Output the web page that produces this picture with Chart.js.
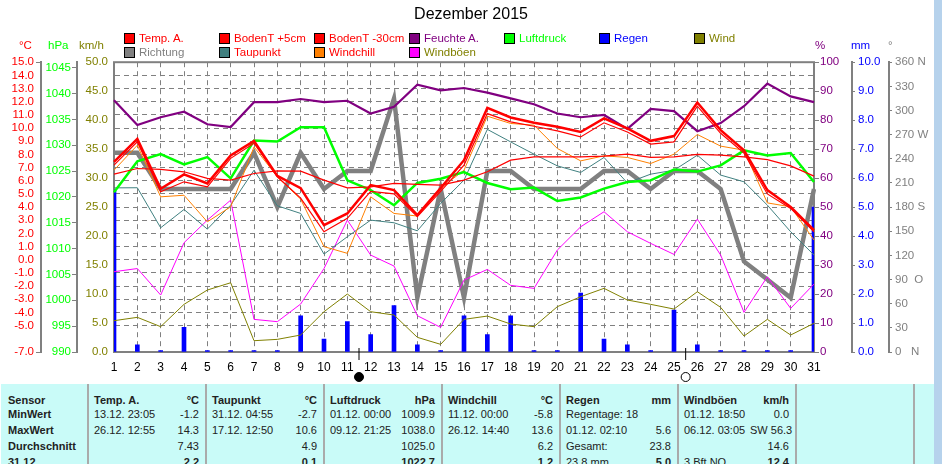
<!DOCTYPE html>
<html lang="de">
<head>
<meta charset="utf-8">
<title>Dezember 2015</title>
<script src="https://cdn.jsdelivr.net/npm/chart.js@4/dist/chart.umd.min.js"></script>
<style>
  html, body { margin: 0; padding: 0; background: #fff; overflow: hidden; }
  body { width: 942px; height: 464px; position: relative; font-family: "Liberation Sans", sans-serif; }
  canvas { position: absolute; left: 0; top: 0; }
  #legend { position: absolute; left: 124px; top: 31px; display: grid; grid-template-columns: repeat(7, 95px); grid-auto-rows: 14px; font-size: 11.5px; }
  #legend div { display: flex; align-items: center; white-space: nowrap; }
  #legend i { width: 9px; height: 9px; border: 1px solid #000; margin-right: 4px; flex: none; }
  .unit { position: absolute; top: 39px; font-size: 11.5px; }
  #scrollbar { position: absolute; left: 934px; top: 0; width: 8px; height: 464px; background: #b6d2ec; }
  #stats { position: absolute; left: 1px; top: 384px; width: 933px; height: 80px; overflow: hidden; background: #c9fbf8; }
  #stats table { border-collapse: collapse; table-layout: fixed; width: 933px; font-size: 11px; color: #222; }
  #stats td { padding: 0; height: 16px; white-space: nowrap; overflow: visible; }
  #stats tr:first-child td { height: 22px; vertical-align: bottom; font-weight: bold; }
  #stats tr:last-child td.v, #stats tr:last-child td.n { font-weight: bold; }
  #stats td.n { padding-left: 7px; font-weight: bold; }
  #stats td.l { padding-left: 5px; border-left: 2px solid #aaa; }
  #stats td.v { padding-right: 6px; text-align: right; }
</style>
</head>
<body>
<canvas id="chart" width="942" height="384"></canvas>
<div id="legend"></div>
<div id="units"></div>
<div id="scrollbar"></div>
<div id="stats"></div>

<script>
const days = ['1','2','3','4','5','6','7','8','9','10','11','12','13','14','15','16','17','18','19','20','21','22','23','24','25','26','27','28','29','30','31'];

const tempA = [7.44,9.18,5.39,6.48,5.8,7.92,9.03,6.37,5.44,2.63,3.52,5.67,5.29,3.39,5.44,7.56,11.53,10.8,10.4,10.1,9.7,10.73,9.97,9.03,9.39,11.94,9.84,8.32,5.29,4.02,2.25];
const boden5 = [7.19,8.95,5.16,5.92,5.54,7.7,8.85,6.3,4.68,2.13,3.15,5.2,5.0,3.27,5.2,7.19,11.1,10.47,10.14,9.79,9.33,10.4,9.7,8.78,8.95,11.66,9.6,8.1,5.0,3.9,2.13];
const boden30 = [6.5,6.93,6.86,6.68,6.18,6.05,6.55,6.75,6.73,6.05,5.46,5.54,5.8,5.72,5.67,6.05,6.68,7.56,7.81,7.81,7.81,7.87,8.02,7.77,7.81,8.0,7.94,7.81,7.6,7.13,6.35];
const feuchte = [86.9,78.3,81,82.9,78.6,77.6,86.2,86.2,87.3,86.2,86.7,82.3,84.6,92.2,90.3,91.1,89.5,87.5,85.5,82.3,81,81.8,77,83.9,83.1,76.2,79,84.8,92.6,88.2,86.2];
const luftdruck = [1020.9,1026.9,1028.3,1026.3,1027.7,1023.6,1030.9,1030.7,1033.5,1033.5,1023.2,1021.3,1018.4,1022.7,1023.5,1024.8,1022.7,1021.5,1021.8,1019.2,1019.9,1021.6,1022.9,1023.2,1025.3,1024.9,1026.1,1029,1028,1028.5,1022.9];
const regen = [5.6,0.25,0.05,0.85,0.05,0.05,0.05,0.05,1.25,0.45,1.05,0.6,1.6,0.25,0.05,1.25,0.6,1.25,0.05,0.05,2.03,0.45,0.25,0.05,1.45,0.25,0.05,0.05,0.05,0.05,5.0];
const wind = [5.4,5.98,4.37,8.22,10.69,11.95,1.95,2.18,2.93,6.95,10,6.95,6.38,2.53,1.32,5.63,6.2,4.83,4.37,7.82,9.54,10.98,8.97,8.22,7.41,10.4,7.7,2.76,5.63,2.93,4.95];
const richtung = [247.5,247.5,202.5,202.5,202.5,202.5,247.5,180,247.5,202.5,225,225,315,67.5,202.5,67.5,225,225,202.5,202.5,202.5,225,225,202.5,225,225,202.5,112.5,90,67.5,202.5];
const taupunkt = [5.46,5.47,2.43,3.82,2.33,4.15,6.8,4.1,3.52,0.43,1.75,3.01,2.81,2.2,4.28,6.05,9.9,8.95,8.02,7.13,6.63,7.77,5.84,6.5,6.8,7.94,6.43,5.92,4.15,2.13,0.36];
const windchill = [6.8,8.7,4.78,4.9,2.88,4.02,8.57,6.3,4.6,1,0.49,4.78,3.52,3.32,5.44,6.8,10.9,10.35,10.22,8.45,7.51,7.89,7.77,7.31,8.02,9.51,8.63,8.32,4.32,4.02,1.5];
const windboeen = [13.85,14.4,9.83,18.85,22.76,26.2,5.63,5.23,8.28,14.4,22.76,16.72,14.83,6.26,4.25,12.41,14.25,11.5,10.98,17.59,21.6,24.2,20.75,18.74,16.84,22.93,16.72,6.84,12.98,7.53,11.72];

const tempTicks = [15,14,13,12,11,10,9,8,7,6,5,4,3,2,1,0,-1,-2,-3,-4,-5,-7];
const druckTicks = [990,995,1000,1005,1010,1015,1020,1025,1030,1035,1040,1045];
const richtungTicks = ['0   N','30','60','90  O','120','150','180 S','210','240','270 W','300','330','360 N'];
const moonDays = [11.5, 25.5];

const statHead = ['Sensor','Temp. A.','°C','Taupunkt','°C','Luftdruck','hPa','Windchill','°C','Regen','mm','Windböen','km/h','','','',''];
const statMin = ['MinWert','13.12. 23:05','-1.2','31.12. 04:55','-2.7','01.12. 00:00','1009.9','11.12. 00:00','-5.8','Regentage: 18','','01.12. 18:50','0.0','','','',''];
const statMax = ['MaxWert','26.12. 12:55','14.3','17.12. 12:50','10.6','09.12. 21:25','1038.0','26.12. 14:40','13.6','01.12. 02:10','5.6','06.12. 03:05','SW 56.3','','','',''];
const statAvg = ['Durchschnitt','','7.43','','4.9','','1025.0','','6.2','Gesamt:','23.8','','14.6','','','',''];
const statLast = ['31.12.','','2.2','','0.1','','1022.7','','1.2',' 23.8 mm','5.0',' 3 Bft NO','12.4','','','',''];

const RED = '#ff0000', LIME = '#00ff00', OLIVE = '#808000', PURPLE = '#800080', BLUE = '#0000ff', GREY = '#808080', TEAL = '#408080', ORANGE = '#ff8000', MAGENTA = '#ff00ff';
const axisFont = { family: '"Liberation Sans", sans-serif', size: 11.5 };

function line(label, data, color, width, yAxisID, order) {
  return { type: 'line', label, data, borderColor: color, backgroundColor: color, borderWidth: width, yAxisID, order, tension: 0, pointRadius: 0 };
}

const datasets = [
  line('Temp. A.', tempA, RED, 2.5, 'temp', 1),
  line('BodenT +5cm', boden5, RED, 1.2, 'temp', 2),
  line('BodenT -30cm', boden30, RED, 1.2, 'temp', 3),
  line('Feuchte A.', feuchte, PURPLE, 2.2, 'percent', 9),
  line('Luftdruck', luftdruck, LIME, 2.5, 'druck', 4),
  { type: 'bar', label: 'Regen', data: regen, backgroundColor: BLUE, yAxisID: 'mm', order: 8, barThickness: 4 },
  line('Wind', wind, OLIVE, 1, 'speed', 7),
  line('Richtung', richtung, GREY, 4.5, 'dir', 10),
  line('Taupunkt', taupunkt, TEAL, 1, 'temp', 6),
  line('Windchill', windchill, ORANGE, 1, 'temp', 5),
  line('Windböen', windboeen, MAGENTA, 1, 'speed', 7)
];
const legendTextColors = [RED, RED, RED, PURPLE, LIME, BLUE, OLIVE, GREY, RED, RED, OLIVE];

// fixed axis widths so the plot lands where the original has it
function fixWidth(width) {
  return scale => { scale.width = width; };
}

function setTicks(values) {
  return scale => { scale.ticks = values.map(value => ({ value })); };
}

const plotFrame = {
  id: 'plotFrame',
  beforeDatasetsDraw(chart) {
    const { ctx, chartArea: a } = chart;
    ctx.save();
    ctx.strokeStyle = GREY;
    ctx.lineWidth = 2;
    ctx.strokeRect(a.left, a.top, a.right - a.left, a.bottom - a.top);
    ctx.restore();
  }
};

const moonMarks = {
  id: 'moonMarks',
  afterDraw(chart) {
    const { ctx, chartArea: a, scales: { x } } = chart;
    moonDays.forEach((day, i) => {
      const px = x.getPixelForValue(day - 1);
      ctx.save();
      ctx.strokeStyle = '#000';
      ctx.beginPath();
      ctx.moveTo(px, a.bottom - 4);
      ctx.lineTo(px, a.bottom + 8);
      ctx.stroke();
      ctx.beginPath();
      ctx.arc(px, a.bottom + 25, 4.5, 0, Math.PI * 2);
      ctx.fillStyle = i === 0 ? '#000' : '#fff';
      ctx.fill();
      ctx.stroke();
      ctx.restore();
    });
  }
};

new Chart(document.getElementById('chart'), {
  type: 'line',
  data: { labels: days, datasets },
  plugins: [plotFrame, moonMarks],
  options: {
    responsive: false,
    animation: false,
    plugins: {
      legend: { display: false },
      tooltip: { enabled: false },
      title: {
        display: true,
        text: 'Dezember 2015',
        color: '#000',
        font: { family: axisFont.family, size: 16, weight: 'normal' },
        padding: { top: 5, bottom: 38 }
      }
    },
    scales: {
      x: {
        offset: false,
        grid: { offset: false, color: GREY, drawTicks: false },
        border: { dash: [5, 4], display: false },
        ticks: { color: '#000', font: { family: axisFont.family, size: 12 }, padding: 8, maxRotation: 0, autoSkip: false },
        afterFit: scale => { scale.height = 32; }
      },
      temp: {
        position: 'left', weight: 3, min: -7, max: 15,
        afterBuildTicks: setTicks(tempTicks),
        afterFit: fixWidth(41),
        grid: {
          color: GREY,
          tickLength: 5,
          tickColor: ctx => (ctx.tick && (ctx.tick.value === 15 || ctx.tick.value === -7)) ? GREY : 'transparent'
        },
        border: { color: GREY, width: 2, dash: [5, 4] },
        ticks: { color: RED, font: axisFont, padding: 2, autoSkip: false, callback: v => v.toFixed(1) }
      },
      druck: {
        position: 'left', weight: 2, min: 990, max: 1046.06,
        afterBuildTicks: setTicks(druckTicks),
        afterFit: fixWidth(36),
        grid: { drawOnChartArea: false, color: GREY, tickLength: 5 },
        border: { color: GREY, width: 2 },
        ticks: { color: LIME, font: axisFont, padding: 1, autoSkip: false, callback: v => String(v) }
      },
      speed: {
        position: 'left', weight: 1, min: 0, max: 50,
        afterFit: fixWidth(37),
        grid: { drawOnChartArea: false, drawTicks: false },
        border: { display: false },
        ticks: { color: OLIVE, font: axisFont, stepSize: 5, padding: 6, callback: v => v.toFixed(1) }
      },
      percent: {
        position: 'right', weight: 1, min: 0, max: 100,
        afterFit: fixWidth(38),
        grid: { drawOnChartArea: false, color: GREY, tickLength: 5 },
        border: { display: false },
        ticks: { color: PURPLE, font: axisFont, stepSize: 10, padding: 1 }
      },
      mm: {
        position: 'right', weight: 2, min: 0, max: 10,
        afterFit: fixWidth(37),
        grid: { drawOnChartArea: false, color: GREY, tickLength: 3 },
        border: { color: GREY, width: 2 },
        ticks: { color: BLUE, font: axisFont, stepSize: 1, padding: 3, callback: v => v.toFixed(1) }
      },
      dir: {
        position: 'right', weight: 3, min: 0, max: 360,
        afterFit: fixWidth(53),
        grid: { drawOnChartArea: false, color: GREY, tickLength: 3 },
        border: { color: GREY, width: 2 },
        ticks: { color: GREY, font: axisFont, stepSize: 30, padding: 3, autoSkip: false, callback: (v, i) => richtungTicks[i] }
      }
    }
  }
});

// legend in the original's two fixed rows
document.getElementById('legend').innerHTML = datasets.map((d, i) =>
  `<div style="color:${legendTextColors[i]}"><i style="background:${d.backgroundColor}"></i>${d.label}</div>`
).join('');

const units = [['°C', 19, RED], ['hPa', 48, LIME], ['km/h', 79, OLIVE], ['%', 815, PURPLE], ['mm', 851, BLUE], ['°', 888, GREY]];
document.getElementById('units').innerHTML = units.map(u =>
  `<span class="unit" style="left:${u[1]}px;color:${u[2]}">${u[0]}</span>`
).join('');

const statRows = [statHead, statMin, statMax, statAvg, statLast];
const colgroup = '<col style="width:87px">' + '<col style="width:72px"><col style="width:46px">'.repeat(7);
document.getElementById('stats').innerHTML = '<table><colgroup>' + colgroup + '</colgroup>' + statRows.map(row =>
  '<tr>' + row.map((text, i) => {
    const cls = i === 0 ? 'n' : (i % 2 === 1 ? 'l' : 'v');
    return `<td class="${cls}">${text}</td>`;
  }).join('') + '</tr>'
).join('') + '</table>';
</script>
</body>
</html>
